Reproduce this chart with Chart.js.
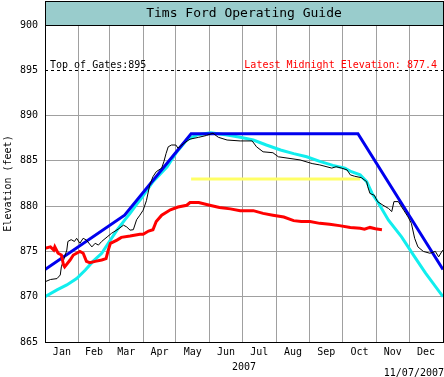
<!DOCTYPE html>
<html>
<head>
<meta charset="utf-8">
<script src="https://cdn.jsdelivr.net/npm/chart.js@4"></script>
<style>
  html, body { margin: 0; padding: 0; background: #fff; }
  #wrap { width: 444px; height: 377px; }
</style>
</head>
<body>
<div id="wrap"><canvas id="tims"></canvas></div>
<script>
// day of year (0 = Jan 1) / elevation in feet
const monthStarts = [0, 31, 59, 90, 120, 151, 181, 212, 243, 273, 304, 334, 365];
const monthNames = ["Jan", "Feb", "Mar", "Apr", "May", "Jun", "Jul", "Aug", "Sep", "Oct", "Nov", "Dec"];
const yTicks = [865, 870, 875, 880, 885, 890, 895, 900];

// operating guide (blue)
const guideDays = [0, 73, 134, 287, 365];
const guideElev = [873, 879, 888, 888, 873];

// cyan guide curve
const cyanDays = [0, 11, 20, 29, 37, 44, 52, 58, 66, 73, 78, 84, 88, 99, 112, 121, 130, 139, 152, 167,
  179, 191, 203, 216, 228, 240, 252, 264, 275, 281, 289, 295, 300, 306, 315, 327, 339, 349, 365];
const cyanElev = [870.0, 870.75, 871.3, 872.0, 872.95, 873.9, 874.8, 875.9, 877.35, 878.45, 879.2, 880.2, 880.8,
  882.7, 884.35, 886.0, 887.3, 887.85, 888.1, 887.85, 887.6, 887.3, 886.75, 886.2, 885.8, 885.45, 884.95,
  884.5, 884.2, 883.8, 883.45, 882.7, 881.4, 880.3, 878.45, 876.6, 874.4, 872.6, 870.0];

// black trace
const blackDays = [0, 5, 11, 14, 15, 18, 20, 21, 24, 27, 29, 32, 35, 38, 43, 46, 49, 52, 57, 61, 67, 72, 75,
  78, 81, 84, 87, 90, 93, 96, 99, 102, 107, 109, 111, 113, 116, 120, 122, 127, 133, 141, 148, 154, 159, 167,
  179, 190, 194, 200, 209, 214, 234, 245, 252, 263, 267, 272, 277, 280, 284, 290, 295, 296, 298, 302, 305,
  310, 315, 318, 320, 324, 329, 333, 336, 339, 342, 347, 353, 358, 361, 364, 365];
const blackElev = [871.65, 871.9, 872.0, 872.4, 873.3, 874.4, 875.15, 876.1, 876.3, 876.1, 876.45, 875.9,
  876.45, 876.25, 875.5, 875.9, 875.7, 876.1, 876.6, 877.0, 877.45, 877.9, 877.7, 877.35, 877.4, 878.5,
  879.0, 879.55, 880.6, 882.3, 883.25, 883.8, 884.2, 884.9, 885.8, 886.55, 886.75, 886.75, 886.4, 886.9,
  887.4, 887.6, 887.8, 888.05, 887.6, 887.3, 887.2, 887.2, 886.55, 886.0, 885.9, 885.45, 885.1, 884.7,
  884.55, 884.2, 884.35, 884.2, 884.0, 883.45, 883.3, 883.15, 882.7, 882.15, 881.4, 881.2, 880.5, 880.1,
  879.75, 879.4, 880.5, 880.5, 879.55, 878.8, 878.1, 876.45, 875.5, 875.0, 874.8, 875.0, 874.4, 875.0, 875.15];

// 2007 elevation (red)
const curDays = [0, 5, 8, 9, 12, 15, 17, 18, 23, 26, 32, 35, 38, 41, 46, 52, 56, 58, 60, 66, 70, 78, 87, 90,
  95, 99, 102, 107, 115, 122, 130, 133, 141, 151, 160, 170, 179, 191, 200, 209, 219, 228, 235, 243, 252,
  261, 270, 280, 289, 293, 298, 303, 309];
const curElev = [875.35, 875.5, 875.15, 875.5, 874.8, 874.6, 873.5, 873.3, 874.05, 874.6, 875.0, 874.8, 873.9,
  873.75, 873.9, 874.05, 874.2, 875.15, 875.9, 876.25, 876.55, 876.7, 876.9, 876.9, 877.25, 877.4, 878.3,
  879.0, 879.6, 879.9, 880.1, 880.4, 880.4, 880.1, 879.85, 879.7, 879.5, 879.5, 879.2, 879.0, 878.8, 878.4,
  878.3, 878.3, 878.1, 878.0, 877.85, 877.65, 877.55, 877.45, 877.65, 877.5, 877.4];

// summer target (yellow)
const yellowDays = [134, 289];
const yellowElev = [883, 883];

const topOfGates = 895;
const latestElev = 877.4;
const reportDate = "11/07/2007";

const FONT = "'DejaVu Sans Mono', monospace";
const monthMids = monthNames.map((m, i) => (monthStarts[i] + monthStarts[i + 1]) / 2);

const pts = (days, vals) => days.map((d, i) => ({ x: d, y: vals[i] }));

const line = (label, days, vals, color, width) => ({
  label: label,
  data: pts(days, vals),
  borderColor: color,
  backgroundColor: color,
  borderWidth: width,
  pointRadius: 0,
  tension: 0,
  fill: false,
});

// title box, gates line, notes, plot border
const decorations = {
  id: "decorations",
  afterDraw(chart) {
    const { ctx, chartArea: a, scales } = chart;
    ctx.save();

    ctx.fillStyle = "#99cccc";
    ctx.fillRect(a.left, 1, a.right - a.left, a.top - 1);
    ctx.strokeStyle = "#000";
    ctx.lineWidth = 1;
    ctx.strokeRect(a.left + 0.5, 1.5, a.right - a.left, a.top - 1);

    ctx.fillStyle = "#000";
    ctx.font = "13px " + FONT;
    ctx.textAlign = "center";
    ctx.textBaseline = "middle";
    ctx.fillText("Tims Ford Operating Guide", (a.left + a.right) / 2, 14);

    const gy = Math.round(scales.y.getPixelForValue(topOfGates)) + 0.5;
    ctx.setLineDash([3, 3]);
    ctx.beginPath();
    ctx.moveTo(a.left, gy);
    ctx.lineTo(a.right, gy);
    ctx.stroke();
    ctx.setLineDash([]);

    ctx.font = "10px " + FONT;
    ctx.textBaseline = "alphabetic";
    ctx.textAlign = "left";
    ctx.fillText("Top of Gates:" + topOfGates, a.left + 5, gy - 3);
    ctx.fillStyle = "#ff0000";
    ctx.textAlign = "right";
    ctx.fillText("Latest Midnight Elevation: " + latestElev.toFixed(1), a.right - 6, gy - 3);

    ctx.fillStyle = "#000";
    ctx.fillText(reportDate, 444, 376);

    ctx.strokeRect(a.left + 0.5, a.top + 0.5, a.right - a.left, a.bottom - a.top);
    ctx.restore();
  },
};

Chart.defaults.font.family = FONT;
Chart.defaults.font.size = 10;
Chart.defaults.color = "#000";
Chart.defaults.animation = false;

new Chart(document.getElementById("tims"), {
  type: "line",
  data: {
    datasets: [
      line("2007", curDays, curElev, "#ff0000", 3),
      line("Trace", blackDays, blackElev, "#000000", 1),
      line("Guide", guideDays, guideElev, "#0000ee", 3),
      line("Curve", cyanDays, cyanElev, "#11eeee", 3),
      line("Summer", yellowDays, yellowElev, "#ffff66", 3),
    ],
  },
  options: {
    responsive: true,
    maintainAspectRatio: false,
    layout: { padding: { top: 25, right: 1, left: 0, bottom: 0 } },
    plugins: {
      legend: { display: false },
      tooltip: { enabled: false },
    },
    scales: {
      x: {
        type: "linear",
        min: 0,
        max: 365,
        afterBuildTicks: (scale) => {
          scale.ticks = monthStarts.concat(monthMids).sort((p, q) => p - q).map((v) => ({ value: v }));
        },
        afterFit: (scale) => {
          scale.height = 35;
          scale.paddingLeft = 0;
          scale.paddingRight = 0;
        },
        ticks: {
          autoSkip: false,
          maxRotation: 0,
          padding: 4,
          callback: (v) => {
            const i = monthMids.indexOf(v);
            return i >= 0 ? monthNames[i] : "";
          },
        },
        grid: {
          drawTicks: false,
          color: (c) => (c.tick && monthStarts.includes(c.tick.value) ? "#a0a0a0" : "rgba(0,0,0,0)"),
        },
        border: { display: false },
        title: { display: true, text: "2007", padding: { top: 0, bottom: 4 } },
      },
      y: {
        min: 865,
        max: 900,
        afterBuildTicks: (scale) => {
          scale.ticks = yTicks.map((v) => ({ value: v }));
        },
        afterFit: (scale) => { scale.width = 45; },
        ticks: { padding: 7 },
        grid: {
          drawTicks: false,
          color: (c) => (c.tick && c.tick.value === topOfGates ? "rgba(0,0,0,0)" : "#a0a0a0"),
        },
        border: { display: false },
        title: { display: true, text: "Elevation (feet)", padding: { top: 2, bottom: 0 } },
      },
    },
  },
  plugins: [decorations],
});
</script>
</body>
</html>
